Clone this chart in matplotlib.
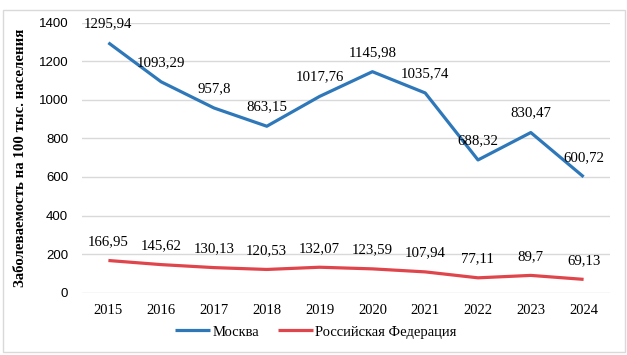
import matplotlib.pyplot as plt
from matplotlib.patches import Rectangle

years = ["2015", "2016", "2017", "2018", "2019", "2020", "2021", "2022", "2023", "2024"]
moskva = [1295.94, 1093.29, 957.8, 863.15, 1017.76, 1145.98, 1035.74, 688.32, 830.47, 600.72]
rf = [166.95, 145.62, 130.13, 120.53, 132.07, 123.59, 107.94, 77.11, 89.7, 69.13]
y_ticks = [0, 200, 400, 600, 800, 1000, 1200, 1400]

blue = "#2E78BA"
red = "#E0454B"
serif = "Liberation Serif"

fig = plt.figure(figsize=(6.27, 3.55), dpi=100)
ax = fig.add_axes([82 / 627, 1 - 292.7 / 355, 528 / 627, (292.7 - 22.7) / 355])

# рамка вокруг диаграммы
fig.patches.append(Rectangle((3 / 627, 1 - 352 / 355), 622 / 627, 342 / 355,
                             transform=fig.transFigure, fill=False,
                             edgecolor="#D9D9D9", linewidth=1))

x = list(range(len(years)))
ax.plot(x, moskva, color=blue, linewidth=2.3, label="Москва", solid_capstyle="butt")
ax.plot(x, rf, color=red, linewidth=2.3, label="Российская Федерация", solid_capstyle="butt")

def fmt(v):
    s = ("%.2f" % v).rstrip("0").rstrip(".")
    return s.replace(".", ",")

for xi, v in zip(x, moskva):
    ax.annotate(fmt(v), (xi, v), xytext=(0, 14), textcoords="offset points",
                ha="center", va="center", fontsize=10.7, family=serif)
for xi, v in zip(x, rf):
    ax.annotate(fmt(v), (xi, v), xytext=(0, 13.5), textcoords="offset points",
                ha="center", va="center", fontsize=10.7, family=serif)

ax.set_xlim(-0.5, len(years) - 0.5)
ax.set_ylim(0, 1400)
ax.set_yticks(y_ticks)
ax.set_yticklabels([str(t) for t in y_ticks], fontsize=9.5, family="Liberation Sans")
ax.set_xticks(x)
ax.set_xticklabels(years, fontsize=10.5, family=serif)
ax.tick_params(axis="both", length=0)
ax.tick_params(axis="y", pad=10)
ax.tick_params(axis="x", pad=8)
ax.grid(axis="y", color="#D9D9D9", linewidth=1)
ax.set_axisbelow(True)
for s in ax.spines.values():
    s.set_visible(False)

ax.set_ylabel("Заболеваемость на 100 тыс. населения", fontsize=10.7,
              family=serif, fontweight="bold", labelpad=8)

fig.legend(*ax.get_legend_handles_labels(), loc="center",
           bbox_to_anchor=(316 / 627, 1 - 332 / 355), ncol=2, frameon=False,
           prop={"family": serif, "size": 10.5}, handlelength=2.4,
           columnspacing=1.3, handletextpad=0.15, borderpad=0)

fig.savefig("out.png", dpi=100)
